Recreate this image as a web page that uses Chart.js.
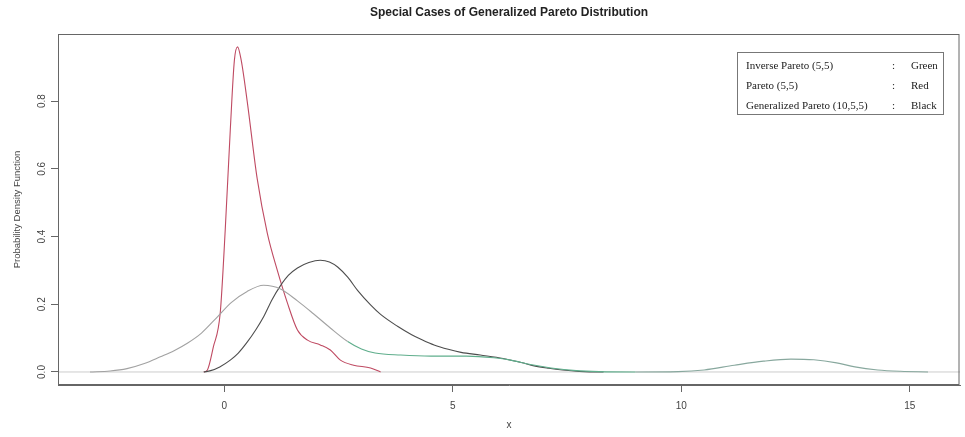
<!DOCTYPE html>
<html>
<head>
<meta charset="utf-8">
<title>Special Cases of Generalized Pareto Distribution</title>
<script src="https://cdn.jsdelivr.net/npm/chart.js@4.4.1/dist/chart.umd.min.js"></script>
<style>
    html, body { margin: 0; padding: 0; background: #fff; }
    #wrap { width: 965px; height: 437px; }
</style>
</head>
<body>
<div id="wrap"><canvas id="myChart" width="965" height="437"></canvas></div>
<script>
// density curves, x positions and heights
var paretoX = [-0.45, -0.37, -0.24, -0.09, 0.02, 0.13, 0.22, 0.29, 0.37, 0.5, 0.72, 0.94, 1.16, 1.38, 1.6, 1.82, 2.1, 2.32, 2.54, 2.83, 3.2, 3.42];
var paretoY = [0, 0.006, 0.074, 0.174, 0.42, 0.714, 0.92, 0.96, 0.92, 0.80, 0.57, 0.41, 0.30, 0.204, 0.124, 0.094, 0.08, 0.065, 0.035, 0.02, 0.012, 0];

var genParetoX = [-0.45, -0.3, -0.1, 0.13, 0.3, 0.5, 0.7, 0.86, 1.05, 1.23, 1.4, 1.6, 1.85, 2.1, 2.3, 2.48, 2.7, 2.92, 3.2, 3.42, 3.79, 4.1, 4.3, 4.59, 4.9, 5.18, 5.6, 6.1, 6.5, 6.78, 7.1, 7.4, 7.87, 8.3];
var genParetoY = [0, 0.004, 0.015, 0.035, 0.055, 0.088, 0.127, 0.163, 0.215, 0.255, 0.285, 0.307, 0.323, 0.33, 0.325, 0.31, 0.28, 0.24, 0.198, 0.17, 0.135, 0.11, 0.097, 0.08, 0.067, 0.058, 0.05, 0.04, 0.028, 0.018, 0.011, 0.006, 0.001, 0];

var invParetoX = [-2.94, -2.5, -2.13, -1.75, -1.4, -1.1, -0.81, -0.5, -0.15, 0.15, 0.5, 0.86, 1.23, 1.6, 1.95, 2.32, 2.7, 3.0, 3.3, 3.86, 4.52, 5.3, 5.9, 6.27, 6.7, 7.15, 7.7, 8.2, 9.0, 9.93, 10.5, 11.16, 11.8, 12.4, 12.9, 13.4, 13.8, 14.3, 14.8, 15.4];
var invParetoY = [0, 0.003, 0.01, 0.025, 0.045, 0.063, 0.085, 0.115, 0.163, 0.205, 0.238, 0.256, 0.245, 0.21, 0.172, 0.13, 0.09, 0.068, 0.056, 0.05, 0.047, 0.047, 0.042, 0.035, 0.022, 0.012, 0.004, 0.001, 0, 0.001, 0.006, 0.02, 0.032, 0.038, 0.036, 0.027, 0.015, 0.006, 0.002, 0];

var xTicks = [0, 5, 10, 15];
var yTicks = [0, 0.2, 0.4, 0.6, 0.8];

var legendNames = ["Inverse Pareto (5,5)", "Pareto (5,5)", "Generalized Pareto (10,5,5)"];
var legendColors = ["Green", "Red", "Black"];

function toPoints(xs, ys) {
    return xs.map(function (x, i) {
        return { x: x, y: ys[i] };
    });
}

var axisColor = '#666';

// box, zero line, title and text legend drawn around the chart area
var framePlugin = {
    id: 'frame',
    beforeDatasetsDraw: function (chart) {
        var ctx = chart.ctx;
        var a = chart.chartArea;
        var y0 = chart.scales.y.getPixelForValue(0);
        ctx.save();
        ctx.strokeStyle = '#cccccc';
        ctx.lineWidth = 1;
        ctx.beginPath();
        ctx.moveTo(a.left, y0);
        ctx.lineTo(a.right, y0);
        ctx.stroke();
        ctx.restore();
    },
    afterDraw: function (chart) {
        var ctx = chart.ctx;
        var a = chart.chartArea;
        ctx.save();
        ctx.strokeStyle = axisColor;
        ctx.lineWidth = 1;
        ctx.strokeRect(a.left + 0.5, a.top + 0.5, a.right - a.left - 1.5, a.bottom - a.top - 1);

        ctx.fillStyle = '#222';
        ctx.font = 'bold 12px "Liberation Sans", Arial, sans-serif';
        ctx.textAlign = 'center';
        ctx.textBaseline = 'middle';
        ctx.fillText('Special Cases of Generalized Pareto Distribution', (a.left + a.right) / 2, 13);

        // legend box
        var bx = a.right - 223, by = a.top + 18, bw = 206, bh = 62;
        ctx.fillStyle = '#fff';
        ctx.fillRect(bx, by, bw, bh);
        ctx.strokeStyle = '#777';
        ctx.strokeRect(bx + 0.5, by + 0.5, bw, bh);
        ctx.font = '11px "Liberation Serif", "Times New Roman", serif';
        ctx.fillStyle = '#222';
        ctx.textAlign = 'left';
        for (var i = 0; i < legendNames.length; i++) {
            var ty = by + 14 + i * 20;
            ctx.fillText(legendNames[i], bx + 9, ty);
            ctx.fillText(':', bx + 155, ty);
            ctx.fillText(legendColors[i], bx + 174, ty);
        }
        ctx.restore();
    }
};

var greenish = '#5fae8c';
var greyish = '#a2a2a2';

new Chart(document.getElementById('myChart'), {
    type: 'line',
    data: {
        datasets: [{
            label: legendNames[0],
            data: toPoints(invParetoX, invParetoY),
            borderColor: greyish,
            segment: {
                borderColor: function (c) {
                    var x = c.p0.parsed.x;
                    if (x >= 2.6 && x < 9) return greenish;
                    if (x >= 9) return '#88a89e';
                    return greyish;
                }
            }
        }, {
            label: legendNames[2],
            data: toPoints(genParetoX, genParetoY),
            borderColor: '#4d4d4d'
        }, {
            label: legendNames[1],
            data: toPoints(paretoX, paretoY),
            borderColor: '#bf4a62'
        }]
    },
    options: {
        responsive: false,
        animation: false,
        layout: { padding: { top: 34, right: 5, left: 0, bottom: 0 } },
        elements: {
            point: { radius: 0 },
            line: { borderWidth: 1.1, cubicInterpolationMode: 'monotone', fill: false }
        },
        plugins: {
            legend: { display: false },
            title: { display: false },
            tooltip: { enabled: false }
        },
        scales: {
            x: {
                type: 'linear',
                min: -3.64,
                max: 16.1,
                afterBuildTicks: function (scale) {
                    scale.ticks = xTicks.map(function (v) { return { value: v }; });
                },
                afterFit: function (scale) { scale.height = 52; },
                grid: { drawOnChartArea: false, drawTicks: true, tickLength: 7, color: axisColor },
                border: { display: true, color: axisColor },
                ticks: {
                    color: '#444',
                    padding: 8,
                    maxRotation: 0,
                    font: { family: '"Liberation Sans", Arial, sans-serif', size: 10 },
                    callback: function (v) { return String(v); }
                },
                title: {
                    display: true,
                    text: 'x',
                    color: '#444',
                    padding: { top: 0, bottom: 6 },
                    font: { family: '"Liberation Sans", Arial, sans-serif', size: 10 }
                }
            },
            y: {
                type: 'linear',
                min: -0.0384,
                max: 0.998,
                afterBuildTicks: function (scale) {
                    scale.ticks = yTicks.map(function (v) { return { value: v }; });
                },
                afterFit: function (scale) { scale.width = 58; },
                grid: { drawOnChartArea: false, drawTicks: true, tickLength: 7, color: axisColor },
                border: { display: true, color: axisColor },
                ticks: {
                    color: '#444',
                    padding: 2,
                    minRotation: 90,
                    maxRotation: 90,
                    crossAlign: 'center',
                    font: { family: '"Liberation Sans", Arial, sans-serif', size: 10 },
                    callback: function (v) { return v.toFixed(1); }
                },
                title: {
                    display: true,
                    text: 'Probability Density Function',
                    color: '#444',
                    padding: { top: 12, bottom: 0 },
                    font: { family: '"Liberation Sans", Arial, sans-serif', size: 9.5 }
                }
            }
        }
    },
    plugins: [framePlugin]
});
</script>
</body>
</html>
